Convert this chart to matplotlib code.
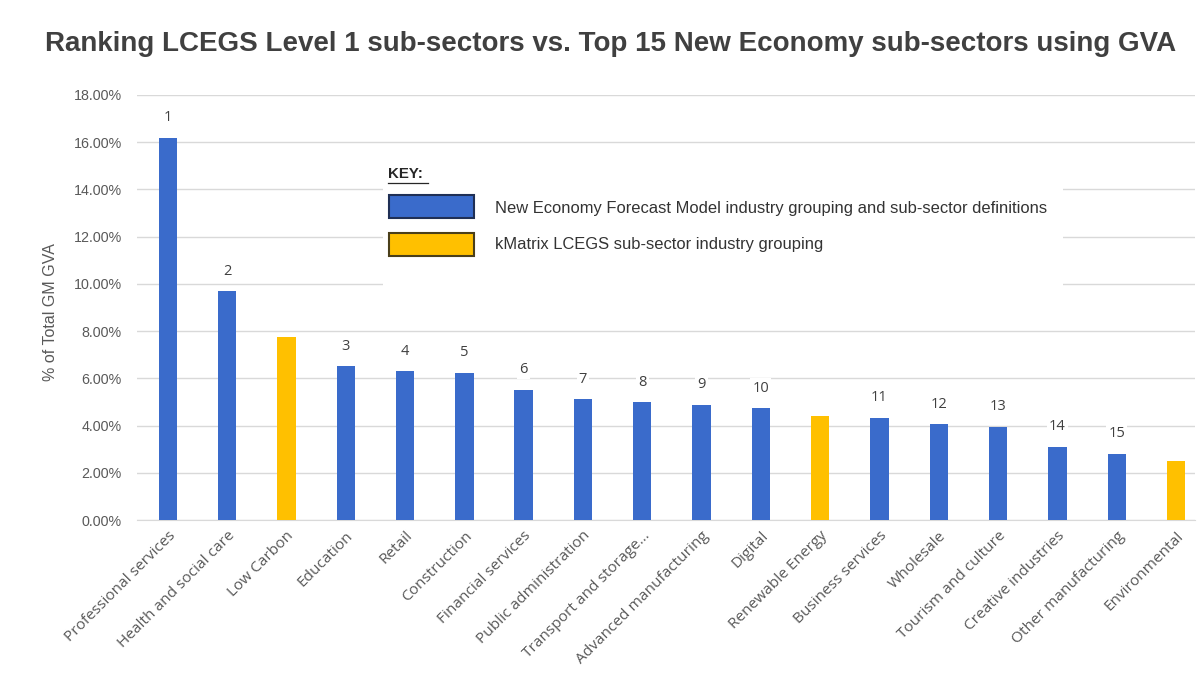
import matplotlib
matplotlib.use("Agg")
import matplotlib.pyplot as plt
from matplotlib.patches import Rectangle
from matplotlib.ticker import FuncFormatter

# Sub-sectors ordered by share of Greater Manchester GVA
sectors = [
    "Professional services", "Health and social care", "Low Carbon", "Education",
    "Retail", "Construction", "Financial services", "Public administration",
    "Transport and storage...", "Advanced manufacturing", "Digital", "Renewable Energy",
    "Business services", "Wholesale", "Tourism and culture", "Creative industries",
    "Other manufacturing", "Environmental",
]
gva_share = [16.2, 9.69, 7.74, 6.52, 6.30, 6.23, 5.52, 5.12, 4.98, 4.88, 4.74,
             4.41, 4.34, 4.06, 3.96, 3.11, 2.80, 2.48]
# True for kMatrix LCEGS groupings, False for New Economy sub-sectors
is_lcegs = [False, False, True, False, False, False, False, False, False, False,
            False, True, False, False, False, False, False, True]
y_ticks = [0, 2, 4, 6, 8, 10, 12, 14, 16, 18]

BLUE = "#3A6BCB"
YELLOW = "#FFC000"
GRID = "#D9D9D9"
TEXT = "#595959"

plt.rcParams["font.family"] = ["Liberation Sans", "DejaVu Sans"]

fig = plt.figure(figsize=(12.01, 6.90), dpi=100)
ax = fig.add_axes([137 / 1201, 1 - 520 / 690, (1195 - 137) / 1201, (520 - 95) / 690])

x = list(range(len(sectors)))
colors = [YELLOW if l else BLUE for l in is_lcegs]
ax.bar(x, gva_share, width=0.31, color=colors, zorder=3)

# Rank labels above the New Economy bars
rank = 0
for xi, v, l in zip(x, gva_share, is_lcegs):
    if l:
        continue
    rank += 1
    ax.annotate(str(rank), (xi, v), xytext=(0, 9), textcoords="offset points",
                ha="center", va="bottom", fontsize=10.5, color="#404040",
                family=["Open Sans", "DejaVu Sans"], zorder=5,
                bbox=dict(boxstyle="square,pad=0.15", fc="white", ec="none"))

ax.set_xlim(-0.52, 17.32)
ax.set_ylim(0, 18)
ax.set_yticks(y_ticks)
ax.yaxis.set_major_formatter(FuncFormatter(lambda v, p: f"{v:.2f}%"))
ax.yaxis.grid(True, color=GRID, linewidth=1.0, zorder=0)
ax.set_axisbelow(True)
for s in ["top", "right", "left"]:
    ax.spines[s].set_visible(False)
ax.spines["bottom"].set_color(GRID)
ax.tick_params(axis="both", length=0, colors=TEXT)
ax.tick_params(axis="y", pad=11, labelsize=10.3)
ax.set_xticks(x)
ax.set_xticklabels(sectors, rotation=45, ha="right", rotation_mode="anchor",
                   family=["Open Sans", "DejaVu Sans"], fontsize=11.1, color=TEXT)
ax.tick_params(axis="x", pad=6)
ax.set_ylabel("% of Total GM GVA", fontsize=11.5, color=TEXT)
ax.yaxis.set_label_coords(-0.075, 0.49)

fig.text(0.508, 1 - 44 / 690, "Ranking LCEGS Level 1 sub-sectors vs. Top 15 New Economy sub-sectors using GVA",
         ha="center", va="center", fontsize=20, fontweight="bold", color="#404040")

# Key panel
def fx(px):
    return px / 1201

def fy(py):
    return 1 - py / 690

fig.patches.append(Rectangle((fx(383), fy(292)), fx(1063) - fx(383), fy(160) - fy(292),
                             transform=fig.transFigure, fc="white", ec="none", zorder=2))
fig.text(fx(388), fy(174), "KEY:", ha="left", va="center", fontsize=10.8,
         fontweight="bold", color="#262626", zorder=4)
fig.add_artist(plt.Line2D([fx(388), fx(428)], [fy(183), fy(183)], color="#262626",
                          lw=0.9, transform=fig.transFigure, zorder=4))
fig.patches.append(Rectangle((fx(389), fy(218)), fx(474) - fx(389), fy(195) - fy(218),
                             transform=fig.transFigure, fc=BLUE, ec="#1F2F55", lw=1.5, zorder=4))
fig.patches.append(Rectangle((fx(389), fy(256)), fx(474) - fx(389), fy(233) - fy(256),
                             transform=fig.transFigure, fc=YELLOW, ec="#4A3F1A", lw=1.5, zorder=4))
fig.text(fx(495), fy(208), "New Economy Forecast Model industry grouping and sub-sector definitions",
         ha="left", va="center", fontsize=11.9, color="#333333", zorder=4)
fig.text(fx(495), fy(245), "kMatrix LCEGS sub-sector industry grouping",
         ha="left", va="center", fontsize=11.9, color="#333333", zorder=4)

fig.savefig("out.png", dpi=100, facecolor="white")
